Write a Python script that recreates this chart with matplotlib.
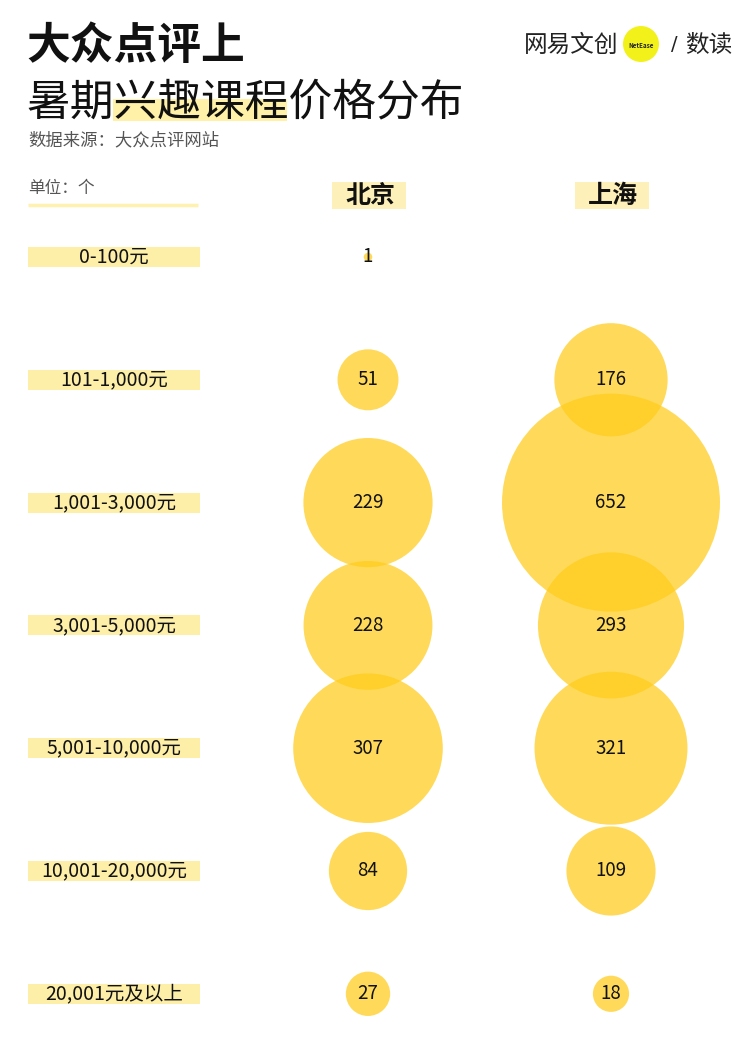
import numpy as np
import matplotlib.pyplot as plt
from matplotlib.patches import Circle, Rectangle

plt.rcParams['font.family'] = ['Noto Sans CJK SC', 'DejaVu Sans']

# -------------------------
# Datos
# -------------------------
price_ranges = ['0-100元', '101-1,000元', '1,001-3,000元', '3,001-5,000元',
                '5,001-10,000元', '10,001-20,000元', '20,001元及以上']
cities = ['北京', '上海']
beijing = [1, 51, 229, 228, 307, 84, 27]
shanghai = [0, 176, 652, 293, 321, 109, 18]

# -------------------------
# Lienzo en pixeles (751 x 1044)
# -------------------------
W, H = 751, 1044
fig = plt.figure(figsize=(W / 100, H / 100), dpi=100)
ax = fig.add_axes([0, 0, 1, 1])
ax.set_xlim(0, W)
ax.set_ylim(H, 0)
ax.set_aspect('equal')
ax.axis('off')

bubble_color = (1.0, 0.80, 0.10)
bubble_alpha = 0.72
r_max = 109           # radio del valor maximo en px
v_max = max(max(beijing), max(shanghai))
col_x = [368, 611]
row_y0, row_step = 257, 122.8
label_x0, label_x1 = 28, 200
label_fill = '#fdeea8'

# titulo
ax.text(26, 46, '大众点评上', fontsize=31.5, fontweight='bold', va='center', ha='left', color='#111111')
ax.add_patch(Rectangle((113, 99), 174, 22, color='#fff2a8', lw=0, zorder=0))
ax.text(26, 102, '暑期兴趣课程价格分布', fontsize=31.5, va='center', ha='left', color='#111111')
ax.text(28, 140, '数据来源：大众点评网站', fontsize=12.5, va='center', ha='left', color='#555555')

# logo
ax.add_patch(Circle((641, 44), 18, color='#f2f21a', lw=0, zorder=1))
ax.text(524, 45, '网易文创', fontsize=17, va='center', ha='left', color='#222222', fontweight='light', zorder=2)
ax.text(641, 45, 'NetEase', fontsize=4.5, va='center', ha='center', color='#222222', fontweight='bold', zorder=2)
ax.text(674, 45, '/', fontsize=14, va='center', ha='center', color='#222222', family='DejaVu Sans')
ax.text(685, 45, '数读', fontsize=17, va='center', ha='left', color='#222222')

# unidad y encabezados
ax.text(28, 188, '单位：个', fontsize=12, va='center', ha='left', color='#555555')
ax.plot([28, 198], [205, 205], color='#fff2b0', lw=2.5, solid_capstyle='butt')
for cx, city in zip(col_x, cities):
    ax.add_patch(Rectangle((cx - 36, 182), 74, 27, color='#fdf0b8', lw=0, zorder=0))
    ax.text(cx + 2, 196, city, fontsize=18, fontweight='bold', va='center', ha='center', color='#111111')

# filas
for i, label in enumerate(price_ranges):
    cy = row_y0 + i * row_step
    ax.add_patch(Rectangle((label_x0, cy - 10), label_x1 - label_x0, 20,
                           color=label_fill, lw=0, zorder=0))
    ax.text((label_x0 + label_x1) / 2, cy, label, fontsize=14, va='center', ha='center',
            color='#111111', zorder=3)

    for cx, vals in zip(col_x, [beijing, shanghai]):
        v = vals[i]
        if v <= 0:
            continue
        r = r_max * np.sqrt(v / v_max)
        ax.add_patch(Circle((cx, cy), r, facecolor=bubble_color, alpha=bubble_alpha,
                            lw=0, zorder=1))
        ax.text(cx, cy, str(v), fontsize=13.5, va='center', ha='center',
                color='#111111', zorder=3)

fig.savefig('out.png', dpi=100, facecolor='white')
